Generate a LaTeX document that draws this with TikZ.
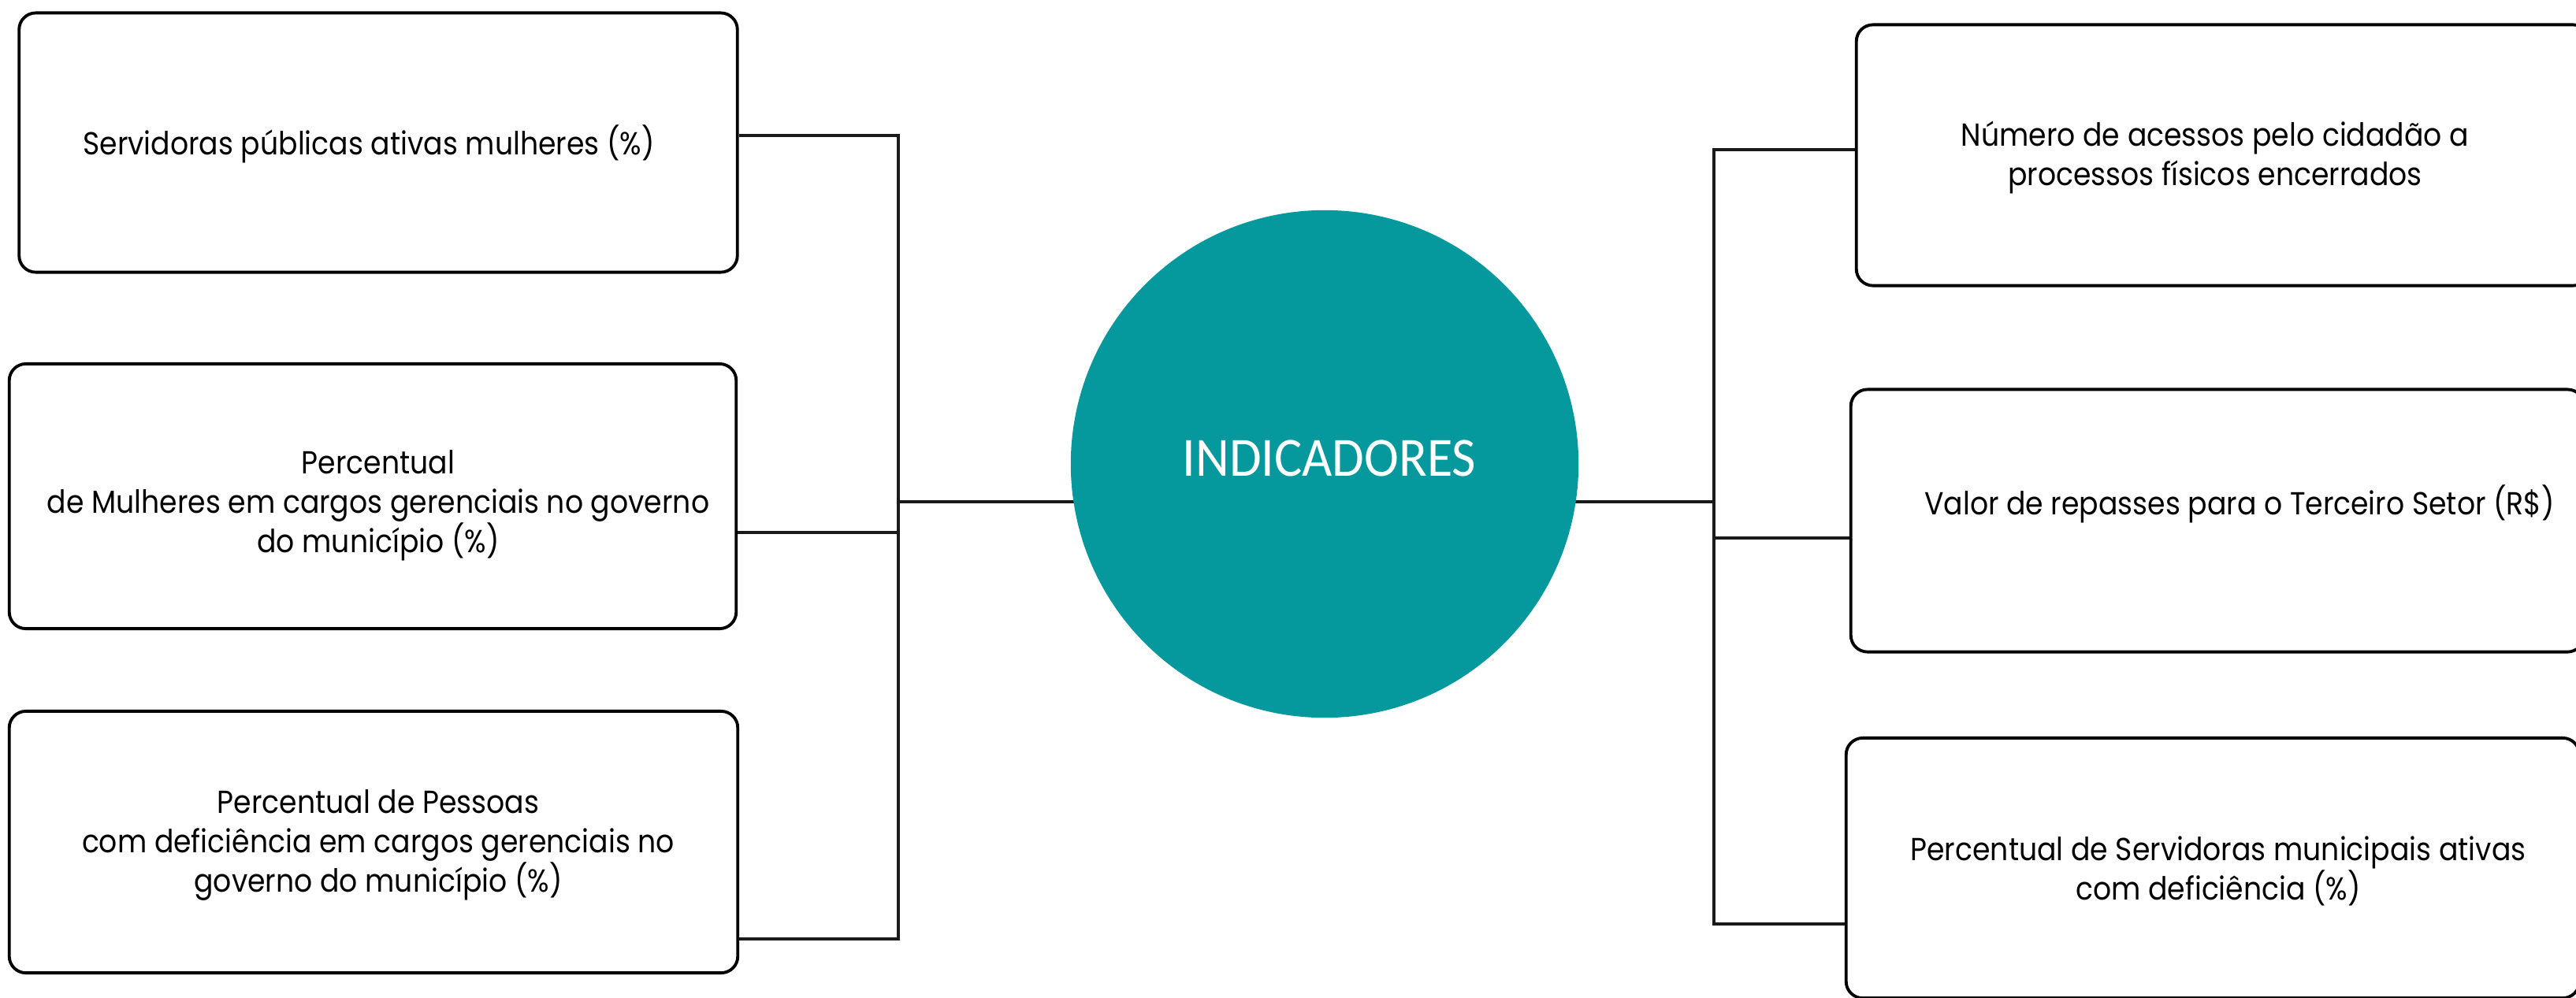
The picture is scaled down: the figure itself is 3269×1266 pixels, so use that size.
\documentclass[tikz,border=0pt]{standalone}
\usepackage{fontspec}
\setmainfont{Poppins}[FakeStretch=0.895]
\newfontfamily\hubfont{Carlito}[FakeStretch=0.94]
\usetikzlibrary{backgrounds}
\definecolor{hubteal}{RGB}{5,153,158}
\definecolor{linegray}{RGB}{26,26,26}
\begin{document}
\begin{tikzpicture}[x=0.01cm,y=-0.01cm,
  ibox/.style={draw=black, line width=1.1pt, rounded corners=6pt, inner sep=0pt},
  itext/.style={font=\fontsize{11.5}{14.2}\selectfont, align=center, text=black, inner sep=0pt},
  conn/.style={draw=linegray, line width=0.9pt}]
\useasboundingbox (0,0) rectangle (3269,1266);
\clip (0,0) rectangle (3269,1266);

% central hub
\node[circle, fill=hubteal, minimum size=6.44cm, inner sep=0pt] (hub) at (1681,589) {};
\node[font=\hubfont\fontsize{20}{24}\selectfont, text=white, inner sep=0pt] (hubt) at (1687,582) {INDICADORES};

% left boxes
\node[ibox, minimum width=9.11cm, minimum height=3.29cm] (L1) at (480,181) {};
\node[itext] (t1) at (468,183) {Servidoras públicas ativas mulheres (\%)};
\node[ibox, minimum width=9.22cm, minimum height=3.36cm] (L2) at (473,630) {};
\node[itext] (t2) at (480,642) {Percentual\\de Mulheres em cargos gerenciais no governo\\do município (\%)};
\node[ibox, minimum width=9.24cm, minimum height=3.32cm] (L3) at (474,1069) {};
\node[itext] (t3) at (480,1073) {Percentual de Pessoas\\com deficiência em cargos gerenciais no\\governo do município (\%)};

% right boxes (cut by the right edge)
\node[ibox, minimum width=9.30cm, minimum height=3.31cm] (R1) at (2821,197) {};
\node[itext] (t4) at (2811,200) {Número de acessos pelo cidadão a\\processos físicos encerrados};
\node[ibox, minimum width=9.30cm, minimum height=3.33cm] (R2) at (2814,661) {};
\node[itext] (t5) at (2842,640) {Valor de repasses para o Terceiro Setor (R\$)};
\node[ibox, minimum width=9.30cm, minimum height=3.30cm] (R3) at (2808,1102) {};
\node[itext] (t6) at (2815,1106) {Percentual de Servidoras municipais ativas\\com deficiência (\%)};

% bus coordinates
\coordinate (lt) at (1140,172);
\coordinate (l2) at (1140,676);
\coordinate (lm) at (1140,637);
\coordinate (lb) at (1140,1192);
\coordinate (rt) at (2175,190);
\coordinate (rm) at (2175,637);
\coordinate (r2) at (2175,683);
\coordinate (rb) at (2175,1173);

\begin{scope}[on background layer]
  \draw[conn] (L1.east |- lt) -- (lt) -- (lb) -- (L3.east |- lb);
  \draw[conn] (L2.east |- l2) -- (l2);
  \draw[conn] (lm) -- (hub.center |- lm);
  \draw[conn] (hub.center |- rm) -- (rm);
  \draw[conn] (R1.west |- rt) -- (rt) -- (rb) -- (R3.west |- rb);
  \draw[conn] (r2) -- (R2.west |- r2);
\end{scope}
\end{tikzpicture}
\end{document}
